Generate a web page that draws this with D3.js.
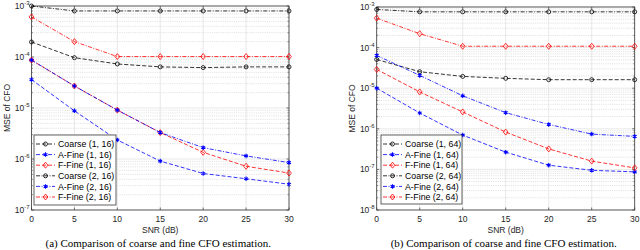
<!DOCTYPE html>
<html>
<head>
<meta charset="utf-8">
<script src="https://cdn.jsdelivr.net/npm/d3@7"></script>
<style>
  body { margin: 0; background: #fff; }
  svg { display: block; font-family: "Liberation Sans", Arial, sans-serif; }
  .caption { font-family: "Liberation Serif", "Times New Roman", serif; }
</style>
</head>
<body>
<div id="chart"></div>
<script>
// SNR axis shared by both panels
const snr = [0, 5, 10, 15, 20, 25, 30];

// panel (a), M = 16
const coarse1_16 = [1.97e-4, 9.7e-5, 7.3e-5, 6.4e-5, 6.2e-5, 6.4e-5, 6.4e-5];
const afine1_16  = [3.6e-5, 8.8e-6, 2.36e-6, 9.1e-7, 5.2e-7, 4.1e-7, 3.2e-7];
const ffine1_16  = [8.7e-5, 2.7e-5, 9.1e-6, 3.3e-6, 1.35e-6, 7.2e-7, 5.3e-7];
const coarse2_16 = [1.0e-3, 8.0e-4, 8.0e-4, 8.0e-4, 8.0e-4, 8.0e-4, 8.0e-4];
const afine2_16  = [8.7e-5, 2.7e-5, 9.1e-6, 3.3e-6, 1.67e-6, 1.15e-6, 8.5e-7];
const ffine2_16  = [6.1e-4, 2.0e-4, 1.02e-4, 1.02e-4, 1.02e-4, 1.02e-4, 1.02e-4];

// panel (b), M = 64
const coarse1_64 = [5.1e-5, 2.55e-5, 1.95e-5, 1.75e-5, 1.62e-5, 1.62e-5, 1.62e-5];
const afine1_64  = [1.0e-5, 2.45e-6, 7.0e-7, 2.66e-7, 1.27e-7, 9.5e-8, 8.7e-8];
const ffine1_64  = [2.9e-5, 8.1e-6, 2.6e-6, 8.3e-7, 3.2e-7, 1.6e-7, 1.09e-7];
const coarse2_64 = [8.7e-4, 7.6e-4, 7.6e-4, 7.6e-4, 7.6e-4, 7.6e-4, 7.6e-4];
const afine2_64  = [6.4e-5, 2.07e-5, 6.5e-6, 2.5e-6, 1.28e-6, 7.4e-7, 6.5e-7];
const ffine2_64  = [5.3e-4, 2.2e-4, 1.08e-4, 1.08e-4, 1.08e-4, 1.08e-4, 1.08e-4];

const xticks = [0, 5, 10, 15, 20, 25, 30];
const legendA = ["Coarse (1, 16)", "A-Fine (1, 16)", "F-Fine (1, 16)", "Coarse (2, 16)", "A-Fine (2, 16)", "F-Fine (2, 16)"];
const legendB = ["Coarse (1, 64)", "A-Fine (1, 64)", "F-Fine (1, 64)", "Coarse (2, 64)", "A-Fine (2, 64)", "F-Fine (2, 64)"];
const captionA = "(a) Comparison of coarse and fine CFO estimation.";
const captionB = "(b) Comparison of coarse and fine CFO estimation.";

// styles per series (same order as legend)
const styles = [
    {color: "#000000", dash: "4,2",         marker: "o"},
    {color: "#0000ff", dash: "4,2",         marker: "*"},
    {color: "#ff0000", dash: "4,2",         marker: "d"},
    {color: "#000000", dash: "4,1.5,1,1.5", marker: "o"},
    {color: "#0000ff", dash: "4,1.5,1,1.5", marker: "*"},
    {color: "#ff0000", dash: "4,1.5,1,1.5", marker: "d"}
];

let svg = d3.select("#chart").append("svg")
    .attr("width", 640)
    .attr("height", 250);

function drawMarker(g, kind, color, cx, cy) {
    if (kind == "o") {
        g.append("circle").attr("cx", cx).attr("cy", cy).attr("r", 2)
            .style("fill", "none").style("stroke", color).style("stroke-width", 0.8);
    } else if (kind == "*") {
        g.append("path").attr("transform", "translate(" + cx + "," + cy + ")")
            .attr("d", d3.symbol(d3.symbolAsterisk, 14)())
            .style("fill", "none").style("stroke", color).style("stroke-width", 1.1);
    } else {
        g.append("path").attr("transform", "translate(" + cx + "," + cy + ")")
            .attr("d", "M0,-3L2.4,0L0,3L-2.4,0Z")
            .style("fill", "none").style("stroke", color).style("stroke-width", 0.8);
    }
}

function panel(options) {
    let config = Object.assign({
        left: 0, right: 0, top: 0, bottom: 210,
        ydomain: [1e-7, 1e-3], series: [], labels: [], caption: "",
        legendbox: {x: 0, y: 0, w: 82, h: 70}
    }, options);

    let g = svg.append("g");

    let x = d3.scaleLinear().domain([0, 30]).range([config.left, config.right]);
    let y = d3.scaleLog().domain(config.ydomain).range([config.bottom, config.top]);

    let lo = Math.round(Math.log10(config.ydomain[0])),
        hi = Math.round(Math.log10(config.ydomain[1]));
    let decades = d3.range(lo, hi + 1);
    let minors = [];
    decades.slice(0, -1).forEach(function(e) {
        for (let m = 2; m <= 9; m++) minors.push(m * Math.pow(10, e));
    });

    // minor grid (dotted)
    g.selectAll(".minor").data(minors).enter().append("line")
        .attr("x1", config.left).attr("x2", config.right)
        .attr("y1", d => y(d)).attr("y2", d => y(d))
        .style("stroke", "#c8c8c8").style("stroke-width", 0.6)
        .style("stroke-dasharray", "1,1.2");
    // major grid
    g.selectAll(".ymajor").data(decades).enter().append("line")
        .attr("x1", config.left).attr("x2", config.right)
        .attr("y1", d => y(Math.pow(10, d))).attr("y2", d => y(Math.pow(10, d)))
        .style("stroke", "#e2e2e2").style("stroke-width", 0.8);
    g.selectAll(".xmajor").data(xticks).enter().append("line")
        .attr("x1", d => x(d)).attr("x2", d => x(d))
        .attr("y1", config.top).attr("y2", config.bottom)
        .style("stroke", "#e2e2e2").style("stroke-width", 0.8);

    // axes box
    g.append("rect")
        .attr("x", config.left).attr("y", config.top)
        .attr("width", config.right - config.left)
        .attr("height", config.bottom - config.top)
        .style("fill", "none").style("stroke", "#3a3a3a").style("stroke-width", 0.8);

    // ticks (inward, MATLAB style)
    xticks.forEach(function(t) {
        g.append("line").attr("x1", x(t)).attr("x2", x(t))
            .attr("y1", config.bottom).attr("y2", config.bottom - 2.5)
            .style("stroke", "#3a3a3a").style("stroke-width", 0.7);
        g.append("line").attr("x1", x(t)).attr("x2", x(t))
            .attr("y1", config.top).attr("y2", config.top + 2.5)
            .style("stroke", "#3a3a3a").style("stroke-width", 0.7);
        g.append("text")
            .attr("x", x(t)).attr("y", config.bottom + 12)
            .style("text-anchor", "middle").style("font-size", "8.5px").style("fill", "#262626")
            .text(t);
    });
    minors.forEach(function(m) {
        [[config.left, 1.5], [config.right, -1.5]].forEach(function(p) {
            g.append("line").attr("x1", p[0]).attr("x2", p[0] + p[1])
                .attr("y1", y(m)).attr("y2", y(m))
                .style("stroke", "#3a3a3a").style("stroke-width", 0.5);
        });
    });
    decades.forEach(function(e) {
        [[config.left, 2.5], [config.right, -2.5]].forEach(function(p) {
            g.append("line").attr("x1", p[0]).attr("x2", p[0] + p[1])
                .attr("y1", y(Math.pow(10, e))).attr("y2", y(Math.pow(10, e)))
                .style("stroke", "#3a3a3a").style("stroke-width", 0.7);
        });
        let t = g.append("text")
            .attr("x", config.left - 2).attr("y", y(Math.pow(10, e)) + 3)
            .style("text-anchor", "end").style("font-size", "8.5px").style("fill", "#262626");
        t.append("tspan").text("10");
        t.append("tspan").attr("dy", -4).style("font-size", "6px").text(e);
    });

    // axis labels
    g.append("text")
        .attr("x", (config.left + config.right) / 2).attr("y", config.bottom + 23)
        .style("text-anchor", "middle").style("font-size", "8.5px").style("fill", "#262626")
        .text("SNR (dB)");
    g.append("text")
        .attr("transform", "translate(" + (config.left - 22) + "," + ((config.top + config.bottom) / 2) + ") rotate(-90)")
        .style("text-anchor", "middle").style("font-size", "8.5px").style("fill", "#262626")
        .text("MSE of CFO");

    // series lines + markers
    let line = d3.line()
        .x(function(d, i) { return x(snr[i]); })
        .y(function(d) { return y(d); });

    config.series.forEach(function(vals, i) {
        let st = styles[i];
        g.append("path")
            .datum(vals)
            .attr("d", line)
            .style("fill", "none").style("stroke", st.color)
            .style("stroke-width", 0.8).style("stroke-dasharray", st.dash);
        vals.forEach(function(v, j) {
            drawMarker(g, st.marker, st.color, x(snr[j]), y(v));
        });
    });

    // legend
    let lb = config.legendbox;
    g.append("rect")
        .attr("x", lb.x).attr("y", lb.y).attr("width", lb.w).attr("height", lb.h)
        .style("fill", "#fff").style("stroke", "#3a3a3a").style("stroke-width", 0.8);
    config.labels.forEach(function(lab, i) {
        let st = styles[i];
        let ly = lb.y + 9 + i * 10.6;
        g.append("line")
            .attr("x1", lb.x + 2).attr("x2", lb.x + 21)
            .attr("y1", ly).attr("y2", ly)
            .style("stroke", st.color).style("stroke-width", 0.8)
            .style("stroke-dasharray", st.dash);
        drawMarker(g, st.marker, st.color, lb.x + 11.5, ly);
        g.append("text")
            .attr("x", lb.x + 24).attr("y", ly + 3.2)
            .style("font-size", "8.8px").style("fill", "#000")
            .text(lab);
    });

    // caption, kept inside the picture
    g.append("text")
        .attr("class", "caption")
        .attr("x", (config.left + config.right) / 2 - 2).attr("y", 247)
        .style("text-anchor", "middle").style("font-size", "11px").style("fill", "#000")
        .text(config.caption);
}

panel({
    left: 31.5, right: 289, top: 6, bottom: 210,
    ydomain: [1e-7, 1e-3],
    series: [coarse1_16, afine1_16, ffine1_16, coarse2_16, afine2_16, ffine2_16],
    labels: legendA,
    caption: captionA,
    legendbox: {x: 34, y: 135, w: 82, h: 70}
});

panel({
    left: 376.7, right: 634.7, top: 7, bottom: 210,
    ydomain: [1e-8, 1e-3],
    series: [coarse1_64, afine1_64, ffine1_64, coarse2_64, afine2_64, ffine2_64],
    labels: legendB,
    caption: captionB,
    legendbox: {x: 381, y: 135, w: 81, h: 69}
});
</script>
</body>
</html>
